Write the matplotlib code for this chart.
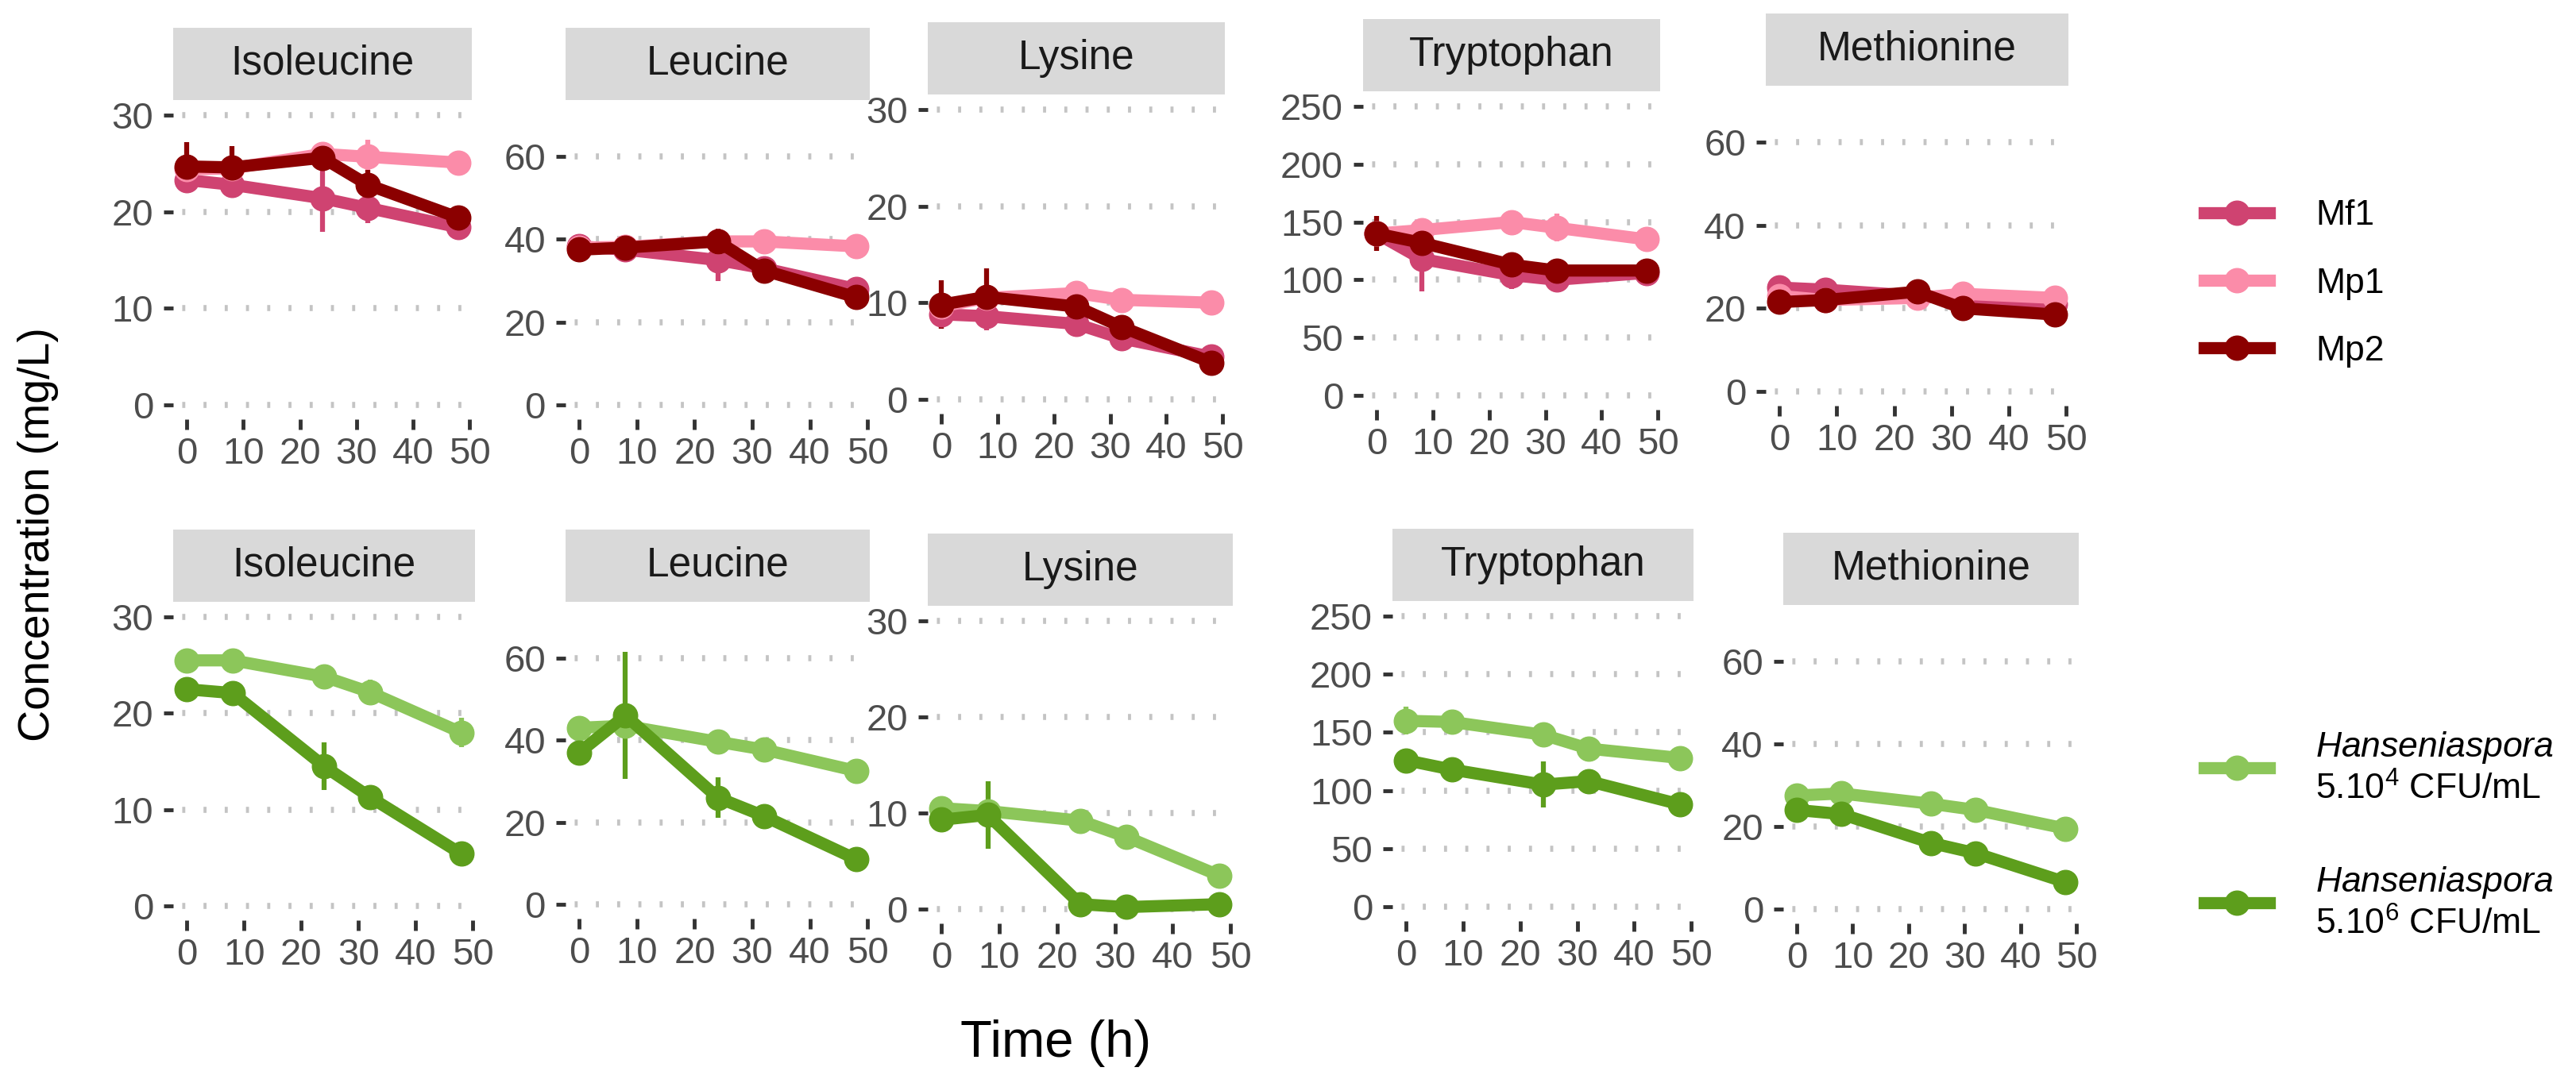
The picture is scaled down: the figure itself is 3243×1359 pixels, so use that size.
import matplotlib
matplotlib.use("Agg")
import matplotlib.pyplot as plt
from matplotlib.lines import Line2D

plt.rcParams['font.family'] = ['Liberation Sans', 'DejaVu Sans']
plt.rcParams['mathtext.fontset'] = 'custom'
plt.rcParams['mathtext.rm'] = 'Liberation Sans'
plt.rcParams['mathtext.it'] = 'Liberation Sans:italic'
plt.rcParams['mathtext.bf'] = 'Liberation Sans:bold'

# ---------------- data ----------------
time_h = [0, 8, 24, 32, 48]
amino_acids = ["Isoleucine", "Leucine", "Lysine", "Tryptophan", "Methionine"]
y_max = [30, 70, 30, 250, 70]
y_ticks = [[0, 10, 20, 30], [0, 20, 40, 60], [0, 10, 20, 30],
           [0, 50, 100, 150, 200, 250], [0, 20, 40, 60]]
x_ticks = [0, 10, 20, 30, 40, 50]

top_series = ["Mf1", "Mp1", "Mp2"]
top_means = {
    "Mf1": [[23.3, 22.8, 21.4, 20.4, 18.4],
            [38.3, 37.5, 35.0, 33.0, 28.0],
            [8.8, 8.6, 7.8, 6.3, 4.4],
            [140, 118, 104, 100, 106],
            [25.0, 24.5, 23.0, 22.0, 21.0]],
    "Mp1": [[24.4, 24.5, 26.0, 25.7, 25.1],
            [38.0, 38.2, 39.5, 39.5, 38.3],
            [9.6, 10.5, 11.0, 10.3, 10.0],
            [140, 143, 150, 145, 135],
            [23.0, 22.0, 22.5, 23.5, 22.5]],
    "Mp2": [[24.7, 24.6, 25.6, 22.8, 19.4],
            [37.5, 38.0, 39.5, 32.5, 26.0],
            [9.8, 10.6, 9.6, 7.5, 3.8],
            [140, 132, 113, 108, 108],
            [21.5, 22.0, 24.0, 20.0, 18.5]],
}
top_sd = {
    "Mf1": [[0.8, 0.8, 3.5, 1.6, 0.4],
            [1.0, 1.0, 5.0, 1.5, 1.0],
            [1.5, 1.5, 1.2, 1.0, 0.4],
            [8, 28, 12, 5, 3],
            [1.0, 1.0, 1.0, 1.0, 0.5]],
    "Mp1": [[0.5, 0.5, 0.3, 1.8, 0.3],
            [0.5, 0.5, 1.0, 2.5, 0.5],
            [0.5, 0.5, 0.5, 0.5, 0.3],
            [5, 8, 5, 12, 3],
            [0.5, 1.0, 1.0, 2.0, 0.5]],
    "Mp2": [[2.5, 2.2, 0.6, 1.5, 0.4],
            [1.5, 1.5, 3.0, 1.5, 1.0],
            [2.5, 3.0, 1.5, 1.0, 0.5],
            [15, 12, 6, 3, 2],
            [1.0, 2.0, 1.0, 1.0, 0.5]],
}

bottom_series = ["H4", "H6"]
bottom_labels = ["$\\mathit{Hanseniaspora}$\n5.10$^{4}$ CFU/mL",
                 "$\\mathit{Hanseniaspora}$\n5.10$^{6}$ CFU/mL"]
bottom_means = {
    "H4": [[25.5, 25.5, 23.8, 22.2, 18.0],
           [43.0, 43.5, 39.6, 37.7, 32.5],
           [10.5, 10.2, 9.2, 7.5, 3.5],
           [160, 159, 148, 136, 128],
           [27.5, 28.0, 25.5, 24.0, 19.5]],
    "H6": [[22.5, 22.1, 14.5, 11.3, 5.4],
           [37.0, 46.0, 26.0, 21.5, 11.0],
           [9.3, 9.8, 0.5, 0.2, 0.5],
           [126, 118, 105, 108, 88],
           [24.0, 23.0, 16.0, 13.5, 6.5]],
}
bottom_sd = {
    "H4": [[0.5, 0.5, 0.8, 1.3, 1.5],
           [1.0, 1.0, 1.0, 1.0, 1.0],
           [0.8, 0.5, 0.5, 0.5, 0.5],
           [12, 5, 4, 5, 8],
           [1.0, 1.0, 0.8, 1.0, 1.0]],
    "H6": [[0.5, 0.5, 2.5, 0.5, 0.3],
           [1.5, 15.5, 5.0, 1.0, 0.8],
           [0.5, 3.5, 0.2, 0.2, 0.2],
           [4, 5, 20, 10, 4],
           [1.0, 1.0, 2.0, 1.0, 0.5]],
}

colors = {"Mf1": "#CF4371", "Mp1": "#FB8CA9", "Mp2": "#8B0000",
          "H4": "#8CC65A", "H6": "#5D9E1C"}

# ---------------- layout (pixel boxes: left, right, top, bottom) ----------------
W, H = 3243, 1359
top_boxes = [(218, 594, 127, 528), (712, 1095, 127, 528), (1168, 1542, 120, 521),
             (1716, 2090, 116, 516), (2223, 2604, 109, 511)]
bot_boxes = [(218, 598, 759, 1159), (712, 1095, 759, 1157), (1168, 1552, 764, 1163),
             (1753, 2132, 758, 1160), (2245, 2617, 763, 1163)]
STRIP_H = 91

fig = plt.figure(figsize=(W / 100, H / 100), dpi=100)

LW = 11
MS = 22
ELW = 4.5
TICK_FS = 34
STRIP_FS = 37
LEG_FS = 32


def make_panel(box, i, series, means, sds):
    l, r, t, b = box
    ax = fig.add_axes([l / W, 1 - b / H, (r - l) / W, (b - t) / H])
    sax = fig.add_axes([l / W, 1 - (t - 1) / H, (r - l) / W, STRIP_H / H])
    sax.set_facecolor("#D9D9D9")
    sax.set_xticks([]); sax.set_yticks([])
    for s in sax.spines.values():
        s.set_visible(False)
    sax.text(0.5, 0.5, amino_acids[i], ha="center", va="center",
             fontsize=STRIP_FS, color="#1A1A1A", transform=sax.transAxes)

    for name in series:
        ax.errorbar(time_h, means[name][i], yerr=sds[name][i], color=colors[name],
                    lw=LW, marker="o", ms=MS, elinewidth=ELW, capsize=0,
                    solid_capstyle="round", zorder=3)
    M = y_max[i]
    ax.set_ylim(-0.05 * M, 1.05 * M)
    ax.set_xlim(-2.4, 50.4)
    ax.set_yticks(y_ticks[i])
    ax.set_xticks(x_ticks)
    ax.set_xticklabels([str(v) for v in x_ticks])
    for s in ax.spines.values():
        s.set_visible(False)
    ax.set_facecolor("white")
    ax.yaxis.grid(True, color="#C4C4C4", lw=5.5, linestyle=(2.0, (0.5, 3)))
    ax.xaxis.grid(False)
    ax.set_axisbelow(True)
    ax.tick_params(axis="both", labelsize=TICK_FS, labelcolor="#4D4D4D",
                   color="#333333", length=9, width=3.5)
    ax.tick_params(axis="y", pad=9)
    ax.tick_params(axis="x", pad=7)
    return ax


for i, box in enumerate(top_boxes):
    make_panel(box, i, top_series, top_means, top_sd)
for i, box in enumerate(bot_boxes):
    make_panel(box, i, bottom_series, bottom_means, bottom_sd)

# axis titles
fig.text(48 / W, 1 - 673 / H, "Concentration (mg/L)", rotation=90,
         ha="center", va="center", fontsize=40, color="black")
fig.text(1329 / W, 1 - 1314 / H, "Time (h)", ha="center", va="center",
         fontsize=47, color="black")

# legends
top_handles = [Line2D([0], [0], color=colors[n], lw=LW, marker="o", ms=MS)
               for n in top_series]
leg1 = fig.legend(top_handles, top_series, loc="center left",
                  bbox_to_anchor=(2775 / W, 1 - 357 / H), frameon=False,
                  fontsize=LEG_FS, handlelength=1.85, handletextpad=1.3,
                  labelspacing=1.0, borderpad=0, borderaxespad=0)
bot_handles = [Line2D([0], [0], color=colors[n], lw=LW, marker="o", ms=MS)
               for n in bottom_series]
leg2 = fig.legend(bot_handles, bottom_labels, loc="center left",
                  bbox_to_anchor=(2775 / W, 1 - 1052 / H), frameon=False,
                  fontsize=LEG_FS, handlelength=1.85, handletextpad=1.3,
                  labelspacing=1.65, borderpad=0, borderaxespad=0)
for txt in leg2.get_texts():
    txt.set_linespacing(1.25)

fig.savefig("out.png", dpi=100, facecolor="white")
